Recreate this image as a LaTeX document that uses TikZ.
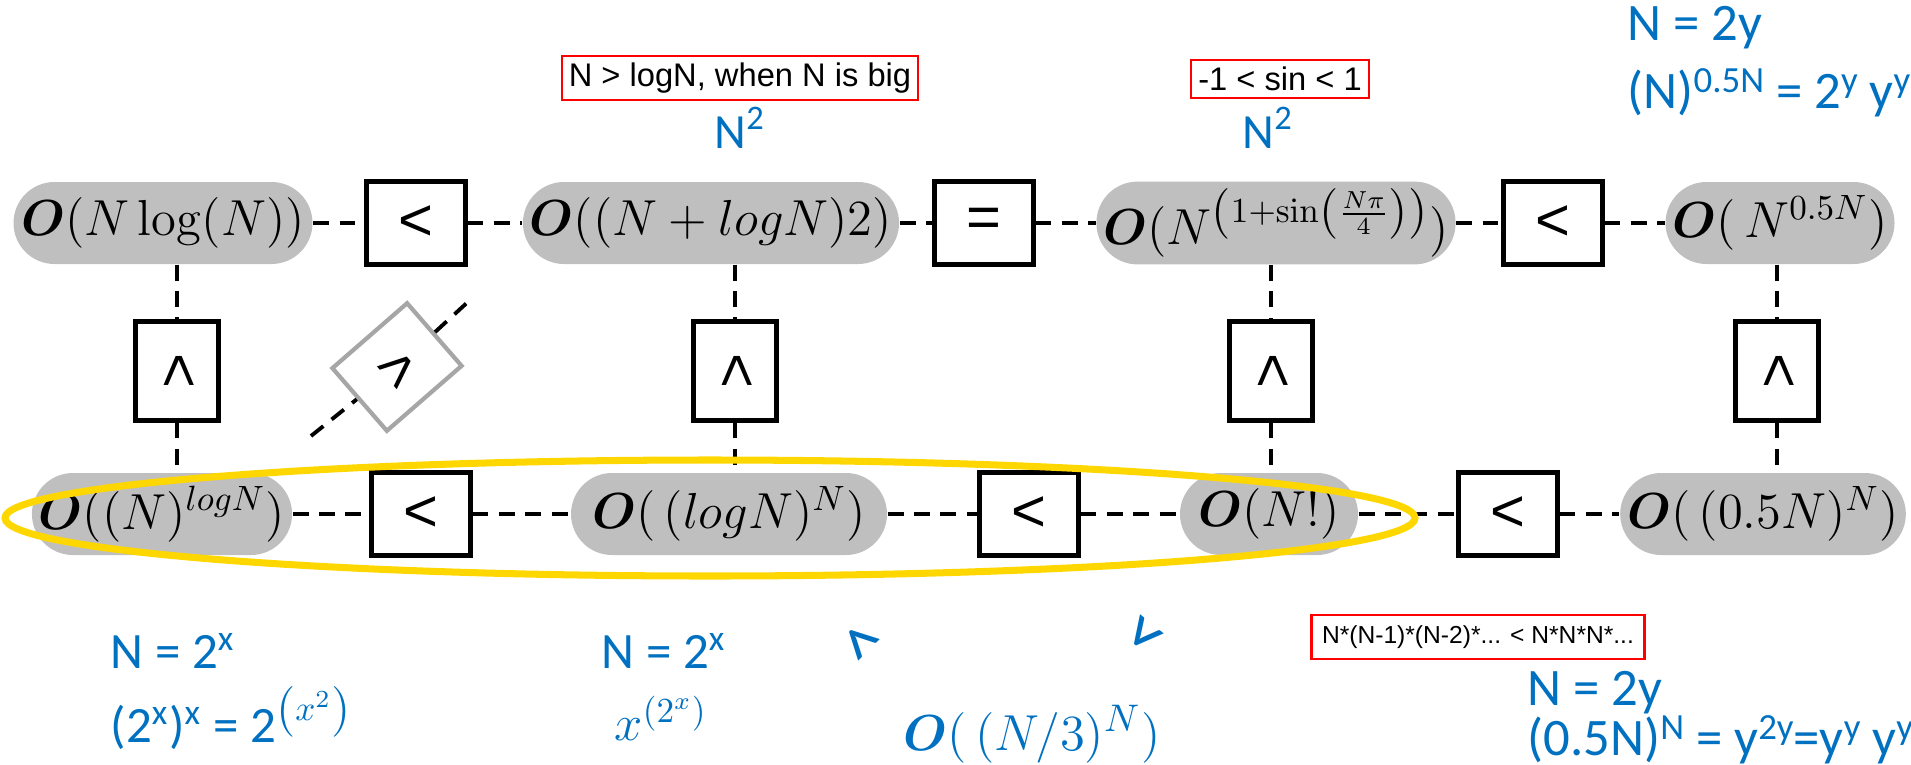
\documentclass[tikz,border=0pt]{standalone}
\usepackage{amsmath}
\usepackage[no-math]{fontspec}
\setmainfont{Liberation Sans}
\newfontfamily\calib{Carlito}
\newcommand{\upidx}[1]{\raisebox{0.62ex}{\fontsize{10.5}{10.5}\selectfont #1}}

\definecolor{refblue}{HTML}{0070C0}
\definecolor{termgray}{HTML}{BFBFBF}
\definecolor{ringgold}{HTML}{FFD700}

\tikzset{
  term/.style ={fill=termgray, rounded corners=0.41cm, minimum height=0.82cm, inner sep=2pt,
    font=\fontsize{14}{16}\selectfont},
  cmp/.style  ={draw, line width=1.2pt, fill=white, minimum width=0.99cm, minimum height=0.83cm,
    inner sep=0pt, font=\fontsize{17}{17}\selectfont},
  cmpgray/.style={cmp, draw=black!35},
  link/.style ={line width=1.1pt, dash pattern=on 4.5pt off 3pt},
  note/.style ={draw=red, line width=0.6pt, inner sep=2pt, font=\fontsize{9.3}{11}\selectfont},
  hint/.style ={text=refblue, anchor=west, inner sep=0pt, font=\calib\fontsize{14.5}{16}\selectfont},
  tilt/.style ={text=refblue, inner sep=0pt, font=\calib\fontsize{21}{21}\selectfont},
}

\begin{document}
\begin{tikzpicture}
  \useasboundingbox (0,0) rectangle (19.11,7.64);
  % upper row
  \node[term, minimum width=2.99cm] (nlogn) at (1.63, 5.41) {$\boldsymbol{O}(N\log(N))$};
  \node[cmp] (c1) at (4.16, 5.41) {<};
  \node[term, minimum width=3.51cm] (sq) at (7.11, 5.41) {$\boldsymbol{O}((N+logN)2)$};
  \node[cmp] (c2) at (9.84, 5.41) {=};
  \node[term, minimum width=3.39cm] (sin) at (12.76, 5.41) {$\boldsymbol{O}(N^{\left(1+\sin\left(\frac{N\pi}{4}\right)\right)})$};
  \node[cmp] (c3) at (15.53, 5.41) {<};
  \node[term, minimum width=2.29cm] (half) at (17.80, 5.41) {$\boldsymbol{O}(\,N^{0.5N})$};
  % lower row
  \node[term, minimum width=2.6cm] (nlog) at (1.62, 2.50) {$\boldsymbol{O}((N)^{logN})$};
  \node[cmp] (c4) at (4.21, 2.50) {<};
  \node[term, minimum width=3.16cm] (logn) at (7.29, 2.50) {$\boldsymbol{O}(\,(logN)^{N})$};
  \node[cmp] (c5) at (10.29, 2.50) {<};
  \node[term, minimum width=1.78cm] (fac) at (12.69, 2.50) {$\boldsymbol{O}(N!)$};
  \node[cmp] (c6) at (15.08, 2.50) {<};
  \node[term, minimum width=2.68cm] (halfn) at (17.63, 2.50) {$\boldsymbol{O}(\,(0.5N)^{N})$};
  % between the rows
  \node[cmp, rotate=-90] (v1) at (1.77, 3.93) {<};
  \node[cmp, rotate=-90] (v2) at (7.35, 3.93) {<};
  \node[cmp, rotate=-90] (v3) at (12.71, 3.93) {<};
  \node[cmp, rotate=-90] (v4) at (17.77, 3.93) {<};
  \node[cmpgray, rotate=-139] (dg) at (3.97, 3.97) {<};
  \coordinate (dl) at (3.11, 3.28);
  \coordinate (du) at (4.70, 4.64);

  \draw[link] (nlogn) -- (c1) -- (sq) -- (c2) -- (sin) -- (c3) -- (half);
  \draw[link] (nlog) -- (c4) -- (logn) -- (c5) -- (fac) -- (c6) -- (halfn);
  \draw[link] (v1 |- nlogn.south) -- (v1) -- (v1 |- nlog.north);
  \draw[link] (v2 |- sq.south) -- (v2) -- (v2 |- logn.north);
  \draw[link] (v3 |- sin.south) -- (v3) -- (v3 |- fac.north);
  \draw[link] (v4 |- half.south) -- (v4) -- (v4 |- halfn.north);
  \draw[link] (dl) -- (dg) -- (du);

  % notes
  \node[note] (big) at (7.40, 6.86) {N > logN, when N is big};
  \node[text=refblue, font=\calib\fontsize{14}{14}\selectfont] (sq2) at (7.40, 6.36) {N\textsuperscript{2}};
  \node[note] (sinr) at (12.80, 6.85) {-1 < sin < 1};
  \node[text=refblue, font=\calib\fontsize{14}{14}\selectfont] (sin2) at (12.68, 6.36) {N\textsuperscript{2}};
  \node[hint, font=\calib\fontsize{15}{16}\selectfont] (ty) at (16.27, 7.36) {N = 2y};
  \node[hint, font=\calib\fontsize{15}{16}\selectfont] (tyy) at (16.27, 6.71) {(N)\upidx{0.5N} = 2\upidx{y} y\upidx{y}};
  \node[note, font=\fontsize{7}{8}\selectfont, inner sep=3pt] (prod) at (14.78, 1.27) {N*(N-1)*(N-2)*... < N*N*N*...};
  \node[hint, font=\calib\fontsize{15}{16}\selectfont] (by) at (15.27, 0.71) {N = 2y};
  \node[hint, font=\calib\fontsize{15}{16}\selectfont] (byy) at (15.27, 0.24) {(0.5N)\upidx{N} = y\upidx{2y}=y\upidx{y} y\upidx{y}};
  \node[hint] (lx) at (1.10, 1.13) {N = 2\textsuperscript{x}};
  \node[hint] (lxx) at (1.10, 0.46) {(2\textsuperscript{x})\textsuperscript{x} = 2$^{\left(x^{2}\right)}$};
  \node[hint] (mx) at (6.01, 1.13) {N = 2\textsuperscript{x}};
  \node[hint] (mxx) at (6.14, 0.46) {$x^{\left(2^{x}\right)}$};
  \node[tilt, rotate=-45] (lt1) at (8.58, 1.19) {<};
  \node[tilt, rotate=51] (lt2) at (11.48, 1.28) {<};
  \node[text=refblue, font=\fontsize{15.5}{17}\selectfont] (third) at (10.32, 0.30) {$\boldsymbol{O}(\,(N/3)^{N})$};

  \draw[ringgold, line width=2pt] (7.10, 2.46) ellipse (7.05 and 0.58);
\end{tikzpicture}
\end{document}
